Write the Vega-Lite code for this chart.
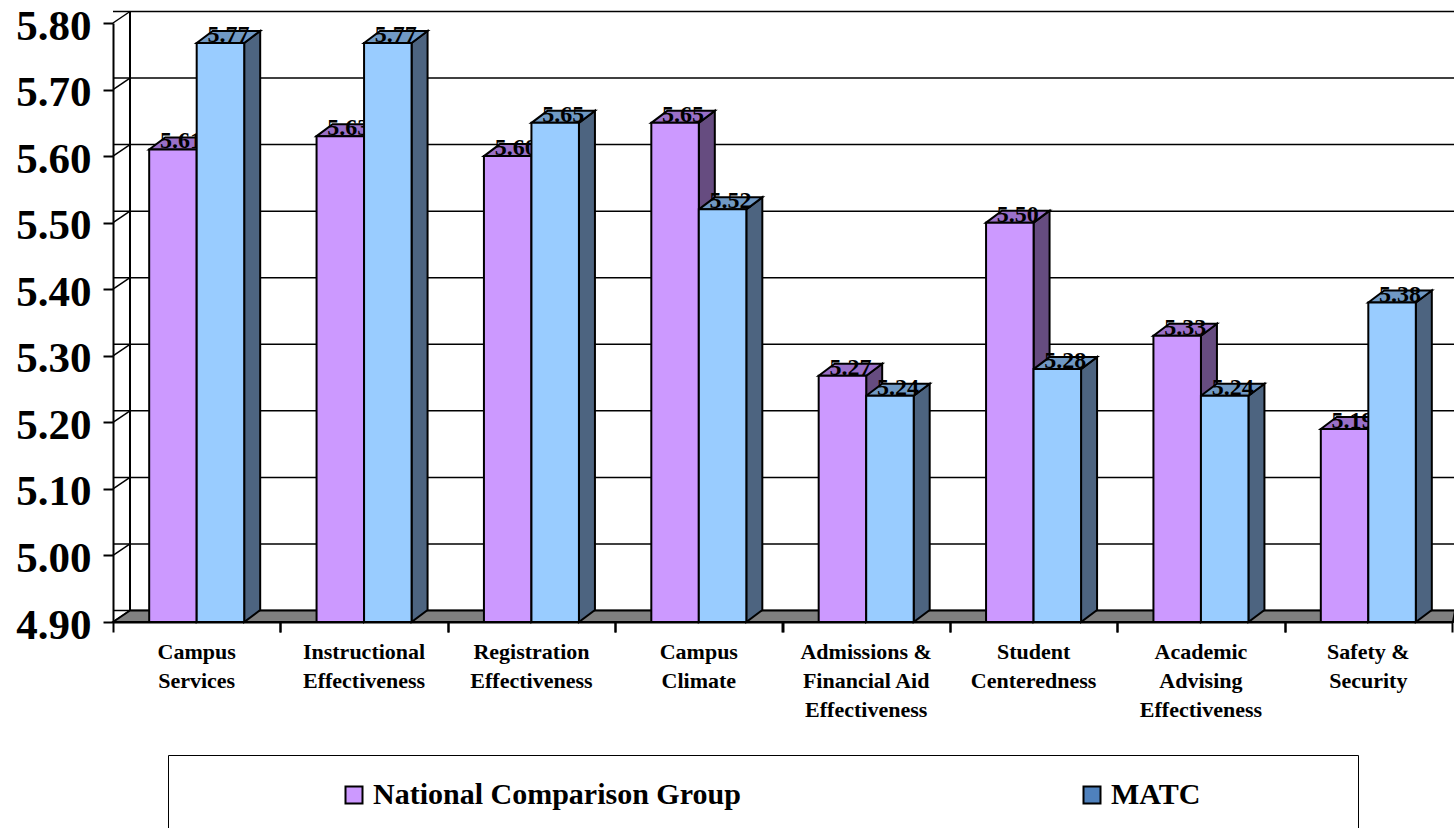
{
  "$schema": "https://vega.github.io/schema/vega-lite/v6.json",
  "width": 1339,
  "height": 599,
  "autosize": {"type": "none"},
  "padding": {"left": 113, "top": 23, "right": 2, "bottom": 206},
  "background": "white",
  "config": {"view": {"stroke": null}},
  "datasets": {
    "scores": [
      {"category": "Campus Services", "series": "National Comparison Group", "score": 5.61},
      {"category": "Campus Services", "series": "MATC", "score": 5.77},
      {"category": "Instructional Effectiveness", "series": "National Comparison Group", "score": 5.63},
      {"category": "Instructional Effectiveness", "series": "MATC", "score": 5.77},
      {"category": "Registration Effectiveness", "series": "National Comparison Group", "score": 5.60},
      {"category": "Registration Effectiveness", "series": "MATC", "score": 5.65},
      {"category": "Campus Climate", "series": "National Comparison Group", "score": 5.65},
      {"category": "Campus Climate", "series": "MATC", "score": 5.52},
      {"category": "Admissions & Financial Aid Effectiveness", "series": "National Comparison Group", "score": 5.27},
      {"category": "Admissions & Financial Aid Effectiveness", "series": "MATC", "score": 5.24},
      {"category": "Student Centeredness", "series": "National Comparison Group", "score": 5.50},
      {"category": "Student Centeredness", "series": "MATC", "score": 5.28},
      {"category": "Academic Advising Effectiveness", "series": "National Comparison Group", "score": 5.33},
      {"category": "Academic Advising Effectiveness", "series": "MATC", "score": 5.24},
      {"category": "Safety & Security", "series": "National Comparison Group", "score": 5.19},
      {"category": "Safety & Security", "series": "MATC", "score": 5.38}
    ],
    "ticks": [
      {"v": 4.9}, {"v": 5.0}, {"v": 5.1}, {"v": 5.2}, {"v": 5.3},
      {"v": 5.4}, {"v": 5.5}, {"v": 5.6}, {"v": 5.7}, {"v": 5.8}
    ],
    "one": [{"k": 1}]
  },
  "data": {"name": "scores"},
  "resolve": {"scale": {"fill": "independent"}, "axis": {"x": "independent"}},
  "layer": [
    {
      "data": {"name": "ticks"},
      "mark": {"type": "rule", "stroke": "black", "strokeWidth": 1.5, "xOffset": 17, "x2Offset": 17, "yOffset": -11.5},
      "encoding": {
        "y": {"field": "v", "type": "quantitative", "scale": {"domain": [4.9, 5.8], "nice": false, "zero": false}}
      }
    },
    {
      "data": {"name": "ticks"},
      "mark": {"type": "rule", "stroke": "black", "strokeWidth": 1.5, "y2Offset": -11.5},
      "encoding": {
        "x": {"value": 0},
        "x2": {"value": 17},
        "y": {"field": "v", "type": "quantitative"},
        "y2": {"field": "v"}
      }
    },
    {
      "data": {"name": "one"},
      "mark": {"type": "rule", "stroke": "black", "strokeWidth": 2, "yOffset": -11.5, "y2Offset": -11.5},
      "encoding": {
        "x": {"value": 17},
        "y": {"datum": 5.8, "type": "quantitative"},
        "y2": {"datum": 4.9}
      }
    },
    {
      "data": {"name": "one"},
      "mark": {"type": "point", "shape": "M0,0L17,-11.5L1342,-11.5L1340,0Z", "size": 4, "filled": true, "fill": "#808080", "stroke": "black", "strokeWidth": 2, "opacity": 1},
      "encoding": {
        "x": {"value": 0},
        "y": {"datum": 4.9, "type": "quantitative"}
      }
    },
    {
      "mark": {
        "type": "point",
        "shape": {"expr": "'M23.75,0L39.75,-12L39.75,' + (scale('y', 4.9) - scale('y', datum.score) - 12) + 'L23.75,' + (scale('y', 4.9) - scale('y', datum.score)) + 'Z'"},
        "size": 4, "filled": true, "stroke": "black", "strokeWidth": 2, "opacity": 1
      },
      "encoding": {
        "x": {"field": "category", "type": "nominal", "sort": null,
              "scale": {"paddingInner": 0.4324, "paddingOuter": 0.2162},
              "axis": {"orient": "bottom", "title": null, "labels": false, "domain": false, "ticks": true, "tickSize": 10, "tickWidth": 2, "tickColor": "black", "tickOffset": -83.69, "grid": false}},
        "xOffset": {"field": "series", "type": "nominal", "sort": ["National Comparison Group", "MATC"], "scale": {"paddingInner": 0, "paddingOuter": 0}},
        "y": {"field": "score", "type": "quantitative"},
        "fill": {"field": "series", "type": "nominal", "scale": {"domain": ["National Comparison Group", "MATC"], "range": ["#664C80", "#4D6480"]}, "legend": null}
      }
    },
    {
      "mark": {
        "type": "point",
        "shape": "M-23.75,0L-7.75,-12L39.75,-12L23.75,0Z",
        "size": 4, "filled": true, "stroke": "black", "strokeWidth": 2, "opacity": 1
      },
      "encoding": {
        "x": {"field": "category", "type": "nominal", "sort": null,
              "axis": {"orient": "bottom", "title": null, "labels": false, "domain": false, "ticks": true, "tickSize": 10, "tickWidth": 2, "tickColor": "black", "tickOffset": 83.69, "grid": false}},
        "xOffset": {"field": "series", "type": "nominal", "sort": ["National Comparison Group", "MATC"]},
        "y": {"field": "score", "type": "quantitative"},
        "fill": {"field": "series", "type": "nominal", "scale": {"domain": ["National Comparison Group", "MATC"], "range": ["#9A70C8", "#7099C4"]}, "legend": null}
      }
    },
    {
      "mark": {"type": "text", "font": "Liberation Serif", "fontWeight": "bold", "fontSize": 24, "dx": 8, "dy": -1, "baseline": "alphabetic", "align": "center", "color": "black"},
      "encoding": {
        "x": {"field": "category", "type": "nominal", "sort": null, "axis": null},
        "xOffset": {"field": "series", "type": "nominal", "sort": ["National Comparison Group", "MATC"]},
        "y": {"field": "score", "type": "quantitative"},
        "text": {"field": "score", "type": "quantitative", "format": ".2f"}
      }
    },
    {
      "mark": {"type": "bar", "stroke": "black", "strokeWidth": 2, "opacity": 1},
      "encoding": {
        "x": {"field": "category", "type": "nominal", "sort": null,
              "axis": {"orient": "bottom", "title": null, "ticks": false, "tickSize": 0, "domain": true, "domainColor": "black", "domainWidth": 2,
                       "labelAngle": 0, "labelFont": "Liberation Serif", "labelFontWeight": "bold", "labelFontSize": 22, "labelLineHeight": 29,
                       "labelPadding": 19, "labelColor": "black", "labelLimit": 400, "grid": false,
                       "labelExpr": "datum.value == 'Campus Services' ? ['Campus','Services'] : datum.value == 'Instructional Effectiveness' ? ['Instructional','Effectiveness'] : datum.value == 'Registration Effectiveness' ? ['Registration','Effectiveness'] : datum.value == 'Campus Climate' ? ['Campus','Climate'] : datum.value == 'Admissions & Financial Aid Effectiveness' ? ['Admissions &','Financial Aid','Effectiveness'] : datum.value == 'Student Centeredness' ? ['Student','Centeredness'] : datum.value == 'Academic Advising Effectiveness' ? ['Academic','Advising','Effectiveness'] : ['Safety &','Security']"}},
        "xOffset": {"field": "series", "type": "nominal", "sort": ["National Comparison Group", "MATC"]},
        "y": {"field": "score", "type": "quantitative",
              "axis": {"values": [4.9, 5.0, 5.1, 5.2, 5.3, 5.4, 5.5, 5.6, 5.7, 5.8], "format": ".2f", "title": null, "grid": false,
                       "domainColor": "black", "domainWidth": 2, "tickColor": "black", "tickWidth": 2, "tickSize": 10, "labelPadding": 12, "labelOffset": 3,
                       "labelFont": "Liberation Serif", "labelFontWeight": "bold", "labelFontSize": 43, "labelColor": "black"}},
        "y2": {"datum": 4.9},
        "fill": {"field": "series", "type": "nominal",
                 "scale": {"domain": ["National Comparison Group", "MATC"], "range": ["#CC99FF", "#99CCFF"]},
                 "legend": null}
      }
    },
    {
      "mark": {"type": "point", "shape": "square", "filled": true, "size": 0, "stroke": "black", "strokeWidth": 2, "opacity": 1},
      "encoding": {
        "x": {"field": "category", "type": "nominal", "sort": null, "axis": null},
        "xOffset": {"field": "series", "type": "nominal", "sort": ["National Comparison Group", "MATC"]},
        "y": {"field": "score", "type": "quantitative"},
        "fill": {"field": "series", "type": "nominal",
                 "scale": {"domain": ["National Comparison Group", "MATC"], "range": ["#CC99FF", "#4F81BD"]},
                 "legend": {"title": null, "orient": "none", "legendX": 55, "legendY": 732, "direction": "horizontal", "columns": 2,
                            "columnPadding": 190, "padding": 25, "strokeColor": "black",
                            "symbolType": "square", "symbolSize": 289, "symbolStrokeColor": "black", "symbolStrokeWidth": 2,
                            "symbolOffset": 146, "labelOffset": 4,
                            "labelFont": "Liberation Serif", "labelFontWeight": "bold", "labelFontSize": 30, "labelColor": "black", "labelLimit": 0,
                            "labelExpr": "datum.label == 'MATC' ? 'MATC\u2800\u2800\u2800\u2800\u2800\u2800' : datum.label",
                            "encode": {
                              "symbols": {"strokeWidth": {"value": 2}, "stroke": {"value": "black"}, "opacity": {"value": 1}},
                              "legend": {"strokeWidth": {"value": 2}}
                            }}}
      }
    }
  ]
}
